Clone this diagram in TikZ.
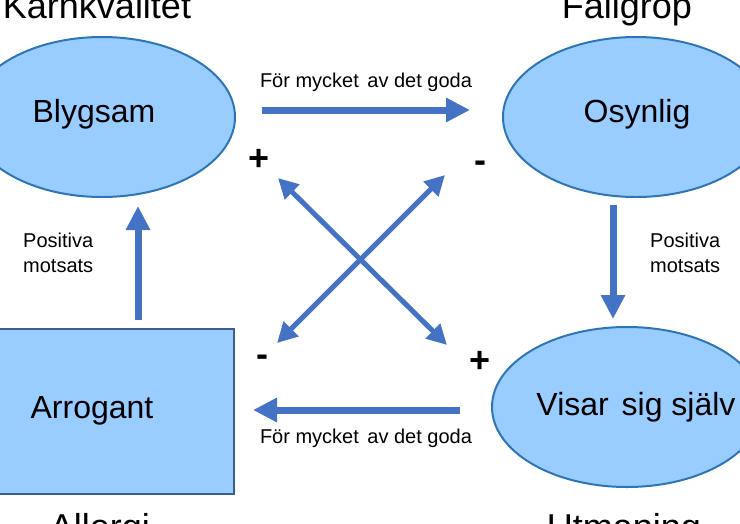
\documentclass[tikz,border=0pt]{standalone}
\usepackage{fontspec}
\setmainfont{Liberation Sans}
\usetikzlibrary{shapes.geometric,arrows.meta}
\definecolor{fillblue}{HTML}{99CCFF}
\definecolor{edgeblue}{HTML}{2E75B6}
\definecolor{rectedge}{HTML}{3B5E8C}
\definecolor{arrowblue}{HTML}{4472C4}
\begin{document}
\begin{tikzpicture}[x=1pt,y=-1pt,
 oval/.style={ellipse, draw=edgeblue, line width=2pt, fill=fillblue, minimum height=160pt, inner sep=0pt},
 boxshape/.style={rectangle, draw=rectedge, line width=2.5pt, fill=fillblue, inner sep=0pt},
 bigtxt/.style={font=\fontsize{32}{36}\selectfont, anchor=base, inner sep=0pt},
 titletxt/.style={font=\fontsize{36}{40}\selectfont, anchor=base, inner sep=0pt},
 smalltxt/.style={font=\fontsize{20}{25}\selectfont, anchor=base, inner sep=0pt},
 signtxt/.style={font=\fontsize{36}{40}\selectfont\bfseries, anchor=base, inner sep=0pt},
 fatarrow/.style={draw=arrowblue, line width=7pt, -{Triangle[width=23pt,length=24pt]}},
 dblarrow/.style={draw=arrowblue, line width=5pt, {Triangle[width=20pt,length=20pt]}-{Triangle[width=20pt,length=20pt]}},
]
\useasboundingbox (0,0) rectangle (740,523);
\clip (0,0) rectangle (740,523);

% shapes
\node[oval, minimum width=266pt] (blyg) at (102,117) {};
\node[oval, minimum width=266pt] (osyn) at (636,117) {};
\node[oval, minimum width=270pt] (visar) at (627,407) {};
\node[boxshape, minimum width=239pt, minimum height=165pt] (arro) at (114.5,411.5) {};

% shape texts
\node[bigtxt] (tblyg) at (94,122) {Blygsam};
\node[bigtxt] (tosyn) at (637,122) {Osynlig};
\node[bigtxt] (tvisar) at (636,415) {Visar\hspace{4pt} sig själv};
\node[bigtxt] (tarro) at (92,418) {Arrogant};

% titles
\node[titletxt] (t1) at (97,18) {Kärnkvalitet};
\node[titletxt] (t2) at (627,18) {Fallgrop};
\node[titletxt] (t3) at (100,539) {Allergi};
\node[titletxt] (t4) at (624,539) {Utmaning};

% small labels
\node[smalltxt] (l1) at (366,87) {För mycket\hspace{3pt} av det goda};
\node[smalltxt] (l2) at (366,443) {För mycket\hspace{3pt} av det goda};
\node[smalltxt, anchor=base west] (l3a) at (23,247) {Positiva};
\node[smalltxt, anchor=base west] (l3b) at (23,272) {motsats};
\node[smalltxt, anchor=base west] (l4a) at (650,247) {Positiva};
\node[smalltxt, anchor=base west] (l4b) at (650,272) {motsats};

% signs
\node[signtxt] (s1) at (259,170) {+};
\node[signtxt] (s2) at (480,172) {-};
\node[signtxt] (s3) at (262,366) {-};
\node[signtxt] (s4) at (480,372) {+};

% arrow end points
\coordinate (a1s) at (262,110);
\coordinate (a1e) at (470,110);
\coordinate (a2s) at (460,410);
\coordinate (a2e) at (253,410);
\coordinate (a3s) at (138,320);
\coordinate (a3e) at (138,206);
\coordinate (a4s) at (613,205);
\coordinate (a4e) at (613,319);
\coordinate (x1a) at (278,178);
\coordinate (x1b) at (447,345);
\coordinate (x2a) at (445,175);
\coordinate (x2b) at (277,343);

\draw[fatarrow] (a1s) -- (a1e);
\draw[fatarrow] (a2s) -- (a2e);
\draw[fatarrow] (a3s) -- (a3e);
\draw[fatarrow] (a4s) -- (a4e);
\draw[dblarrow] (x1a) -- (x1b);
\draw[dblarrow] (x2a) -- (x2b);
\end{tikzpicture}
\end{document}
